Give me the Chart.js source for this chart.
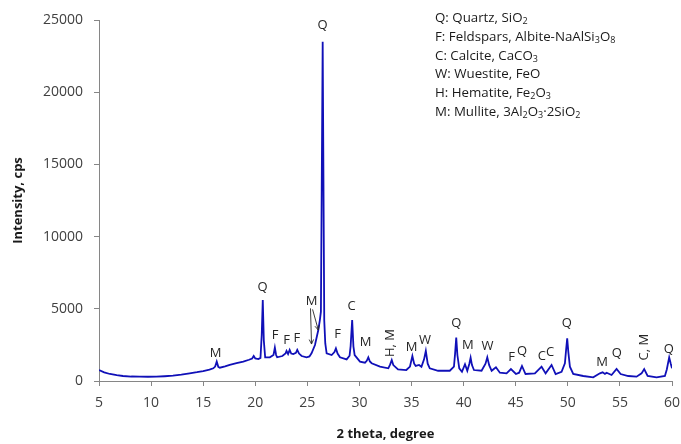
<!DOCTYPE html>
<html>
<head>
<meta charset="utf-8">
<script src="https://cdn.jsdelivr.net/npm/chart.js@4/dist/chart.umd.min.js"></script>
<style>
  html, body { margin: 0; padding: 0; background: #fff; }
  #wrap { position: relative; width: 681px; height: 444px; }
  #legend {
    position: absolute; left: 435px; top: 8px;
    font-family: "Open Sans", sans-serif; font-size: 13.3px; line-height: 18.8px;
    color: #1a1a1a; white-space: nowrap;
  }
  #legend sub { font-size: 9px; line-height: 0; vertical-align: -2px; }
</style>
</head>
<body>
<div id="wrap">
  <canvas id="xrd" width="681" height="444"></canvas>
  <div id="legend">
    <div>Q: Quartz, SiO<sub>2</sub></div>
    <div>F: Feldspars, Albite-NaAlSi<sub>3</sub>O<sub>8</sub></div>
    <div>C: Calcite, CaCO<sub>3</sub></div>
    <div>W: Wuestite, FeO</div>
    <div>H: Hematite, Fe<sub>2</sub>O<sub>3</sub></div>
    <div>M: Mullite, 3Al<sub>2</sub>O<sub>3</sub>·2SiO<sub>2</sub></div>
  </div>
</div>
<script>
// diffraction pattern (2 theta in degrees, intensity in cps)
const twoTheta = [
  5.0, 5.5, 6.05, 6.7, 7.3, 8.1, 8.9, 9.7, 10.5, 11.3, 12.1, 12.9, 13.7, 14.4, 15.0, 15.6,
  15.97, 16.15, 16.3, 16.45, 16.6, 17.1, 17.55, 18.2, 18.85, 19.4, 19.7, 19.85, 20.0, 20.3,
  20.5, 20.62, 20.72, 20.82, 20.95, 21.4, 21.75, 21.88, 22.0, 22.1, 22.6, 22.9, 23.0, 23.15,
  23.3, 23.45, 23.65, 23.9, 24.03, 24.2, 24.45, 24.93, 25.2, 25.4, 25.73, 26.05, 26.2, 26.3,
  26.47, 26.62, 26.72, 26.85, 27.33, 27.6, 27.74, 27.9, 28.13, 28.77, 29.05, 29.15,
  29.3, 29.42, 29.54, 30.05, 30.53, 30.7, 30.85, 31.0, 31.17, 31.97, 32.77, 32.95, 33.1, 33.25,
  33.7, 34.5, 34.85, 35.08, 35.25, 35.4, 35.72, 35.95, 36.2, 36.37, 36.55, 36.75, 37.55, 38.67,
  39.07, 39.18, 39.29, 39.4, 39.58, 39.84, 40.13, 40.35, 40.55, 40.67, 40.8, 40.99, 41.72, 42.1,
  42.27, 42.45, 42.69, 43.1, 43.48, 44.12, 44.54, 45.02, 45.33, 45.6, 45.94, 46.84, 47.48, 47.87,
  48.44, 48.83, 49.4, 49.72, 49.84, 49.94, 50.05, 50.2, 50.52, 51.48, 52.44, 53.08, 53.34, 53.56,
  53.72, 54.2, 54.68, 55.07, 55.8, 56.6, 57.08, 57.33, 57.66, 58.52, 59.32, 59.5, 59.73, 59.88,
  60.0
];
const intensity = [
  760, 600, 485, 400, 346, 310, 300, 295, 300, 330, 370, 440, 530, 610, 690, 790,
  880, 1000, 1340, 980, 920, 1010, 1110, 1230, 1340, 1470, 1560, 1730, 1560, 1520,
  1600, 3200, 5610, 2800, 1640, 1640, 1800, 2310, 1800, 1640, 1730, 1900, 2080, 1870,
  2150, 1900, 1870, 1950, 2150, 1900, 1730, 1640, 1700, 1920, 2490, 3530, 4220, 4800,
  23500, 4200, 2600, 1920, 1800, 2000, 2260, 1900, 1640, 1500, 1750, 2400,
  4220, 2400, 1800, 1340, 1270, 1400, 1640, 1350, 1230, 990, 880, 1150, 1450, 1100,
  810, 760, 1000, 1730, 1200, 1040, 1110, 990, 1500, 2080, 1200, 880, 710, 710,
  990, 1900, 3000, 1800, 880, 640, 1160, 710, 1200, 1610, 1100, 760, 710, 1200,
  1640, 1100, 710, 950, 575, 530, 830, 485, 575, 1040, 485, 530, 990, 530,
  1110, 485, 640, 1230, 2200, 2960, 2000, 990, 485, 346, 255, 530, 600, 485,
  575, 415, 830, 485, 346, 300, 530, 830, 346, 255, 346, 800, 1640, 1200,
  880
];

const xTicks = [5, 10, 15, 20, 25, 30, 35, 40, 45, 50, 55, 60];
const yTicks = [0, 5000, 10000, 15000, 20000, 25000];

// phase letters over the peaks: text, 2 theta, intensity at label centre, vertical?
const peakText  = ['M', 'Q', 'F', 'F', 'F', 'M', 'Q', 'F', 'C', 'M', 'H, M', 'M', 'W', 'Q', 'M', 'W', 'F', 'Q', 'C', 'C', 'Q', 'M', 'Q', 'C, M', 'Q'];
const peakTheta = [16.2, 20.7, 21.9, 23.0, 24.0, 25.4, 26.45, 27.9, 29.25, 30.6, 33.0, 35.0, 36.3, 39.3, 40.4, 42.3, 44.6, 45.6, 47.5, 48.3, 49.9, 53.3, 54.7, 57.3, 59.7];
const peakLevel = [1940, 6510, 3190, 2840, 2980, 5540, 24600, 3260, 5190, 2700, 2630, 2350, 2840, 4020, 2490, 2420, 1660, 2080, 1730, 2010, 4020, 1320, 1940, 2350, 2220];
const peakVertical = [false, false, false, false, false, false, false, false, false, false, true, false, false, false, false, false, false, false, false, false, false, false, false, true, false];

// the two arrows under the "M" near 25.5 degrees: start and end points
const arrowFrom = [[25.3, 5030], [25.5, 4960]];
const arrowTo = [[25.4, 2560], [26.05, 3530]];

const points = twoTheta.map((t, i) => ({ x: t, y: intensity[i] }));

const peakLabelPlugin = {
  id: 'peakLabels',
  afterDatasetsDraw(chart) {
    const ctx = chart.ctx;
    const xs = chart.scales.x;
    const ys = chart.scales.y;
    ctx.save();
    ctx.fillStyle = '#262626';
    ctx.font = '13px "Open Sans", sans-serif';
    ctx.textAlign = 'center';
    ctx.textBaseline = 'middle';
    peakText.forEach((txt, i) => {
      const px = xs.getPixelForValue(peakTheta[i]);
      const py = ys.getPixelForValue(peakLevel[i]);
      if (peakVertical[i]) {
        ctx.save();
        ctx.translate(px, py);
        ctx.rotate(-Math.PI / 2);
        ctx.fillText(txt, 0, 0);
        ctx.restore();
      } else {
        ctx.fillText(txt, px, py);
      }
    });

    // arrows
    ctx.strokeStyle = '#262626';
    ctx.lineWidth = 0.9;
    arrowFrom.forEach((from, i) => {
      const x0 = xs.getPixelForValue(from[0]);
      const y0 = ys.getPixelForValue(from[1]);
      const x1 = xs.getPixelForValue(arrowTo[i][0]);
      const y1 = ys.getPixelForValue(arrowTo[i][1]);
      const ang = Math.atan2(y1 - y0, x1 - x0);
      ctx.beginPath();
      ctx.moveTo(x0, y0);
      ctx.lineTo(x1, y1);
      ctx.moveTo(x1 - 5 * Math.cos(ang - 0.45), y1 - 5 * Math.sin(ang - 0.45));
      ctx.lineTo(x1, y1);
      ctx.lineTo(x1 - 5 * Math.cos(ang + 0.45), y1 - 5 * Math.sin(ang + 0.45));
      ctx.stroke();
    });
    ctx.restore();
  }
};

new Chart(document.getElementById('xrd'), {
  type: 'line',
  data: {
    datasets: [{
      data: points,
      borderColor: '#1010b8',
      borderWidth: 1.8,
      pointRadius: 0,
      tension: 0,
      fill: false
    }]
  },
  options: {
    responsive: false,
    animation: false,
    layout: { autoPadding: false, padding: { top: 20, right: 9, left: 6, bottom: 0 } },
    plugins: { legend: { display: false }, tooltip: { enabled: false } },
    scales: {
      x: {
        type: 'linear',
        min: 5,
        max: 60,
        afterBuildTicks: (scale) => { scale.ticks = xTicks.map(v => ({ value: v })); },
        afterFit: (scale) => {
          scale.height = 63;
          scale.paddingLeft = 0;
          scale.paddingRight = 0;
        },
        ticks: { color: '#404040', font: { family: '"Open Sans", sans-serif', size: 14 }, padding: 9, maxRotation: 0,
                 callback: (v) => String(v) },
        grid: { drawOnChartArea: false, drawTicks: true, tickLength: 5, color: '#868686' },
        border: { color: '#868686' },
        title: {
          display: true,
          text: '2 theta, degree',
          color: '#1a1a1a',
          font: { family: '"Open Sans", sans-serif', size: 13, weight: 'bold' },
          padding: { top: 4, bottom: 2 }
        }
      },
      y: {
        min: 0,
        max: 25000,
        afterBuildTicks: (scale) => { scale.ticks = yTicks.map(v => ({ value: v })); },
        afterFit: (scale) => {
          scale.width = 93;
          scale.paddingTop = 0;
          scale.paddingBottom = 0;
        },
        ticks: { color: '#404040', font: { family: '"Open Sans", sans-serif', size: 14 }, padding: 11,
                 callback: (v) => String(v) },
        grid: { drawOnChartArea: false, drawTicks: true, tickLength: 5, color: '#868686' },
        border: { color: '#868686' },
        title: {
          display: true,
          text: 'Intensity, cps',
          color: '#1a1a1a',
          font: { family: '"Open Sans", sans-serif', size: 13, weight: 'bold' },
          padding: { top: 4, bottom: 4 }
        }
      }
    }
  },
  plugins: [peakLabelPlugin]
});
</script>
</body>
</html>
